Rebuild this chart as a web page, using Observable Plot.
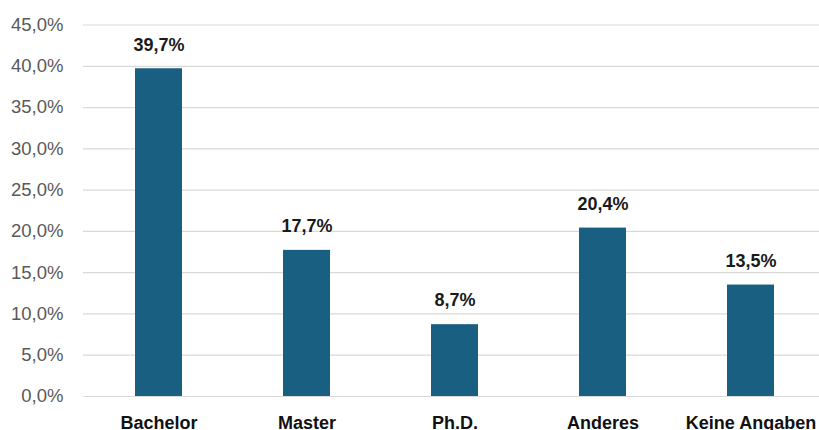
<!DOCTYPE html>
<html>
<head>
<meta charset="utf-8">
<script src="https://cdn.jsdelivr.net/npm/d3@7"></script>
<script src="https://cdn.jsdelivr.net/npm/@observablehq/plot@0.6"></script>
<style>
  html, body { margin: 0; padding: 0; background: #fff; }
  #chart { width: 819px; height: 430px; overflow: hidden; }
</style>
</head>
<body>
<div id="chart"></div>
<script>
const categories = ["Bachelor", "Master", "Ph.D.", "Anderes", "Keine Angaben"];
const values = [39.7, 17.7, 8.7, 20.4, 13.5];
const yTicks = [0, 5, 10, 15, 20, 25, 30, 35, 40, 45];

const data = categories.map((c, i) => ({ category: c, value: values[i] }));
const fmt = d => d.toFixed(1).replace(".", ",") + "%";

const chart = Plot.plot({
  width: 819,
  height: 430,
  marginLeft: 83,
  marginRight: 0,
  marginTop: 24.5,
  marginBottom: 34,
  style: { fontFamily: "'Liberation Sans', Arial, sans-serif", background: "#fff" },
  x: { domain: categories, range: [83.3, 825.3], paddingInner: 0.683, paddingOuter: 0.3415, label: null },
  y: { domain: [0, 45], label: null },
  marks: [
    Plot.gridY(yTicks, { stroke: "#d9d9d9", strokeOpacity: 1, strokeWidth: 1.2 }),
    Plot.axisY({ ticks: yTicks, tickFormat: fmt, tickSize: 0, tickPadding: 20, fontSize: 18.5, color: "#595959", label: null }),
    Plot.barY(data, { x: "category", y: "value", fill: "#185F82" }),
    Plot.text(data, { x: "category", y: "value", text: d => fmt(d.value), dy: -24, lineAnchor: "middle", fontSize: 18, fontWeight: "bold", fill: "#1a1a1a" }),
    Plot.axisX({ tickSize: 0, tickPadding: 20, fontSize: 18, fontWeight: "bold", color: "#111", label: null })
  ]
});
document.getElementById("chart").appendChild(chart);
</script>
</body>
</html>
